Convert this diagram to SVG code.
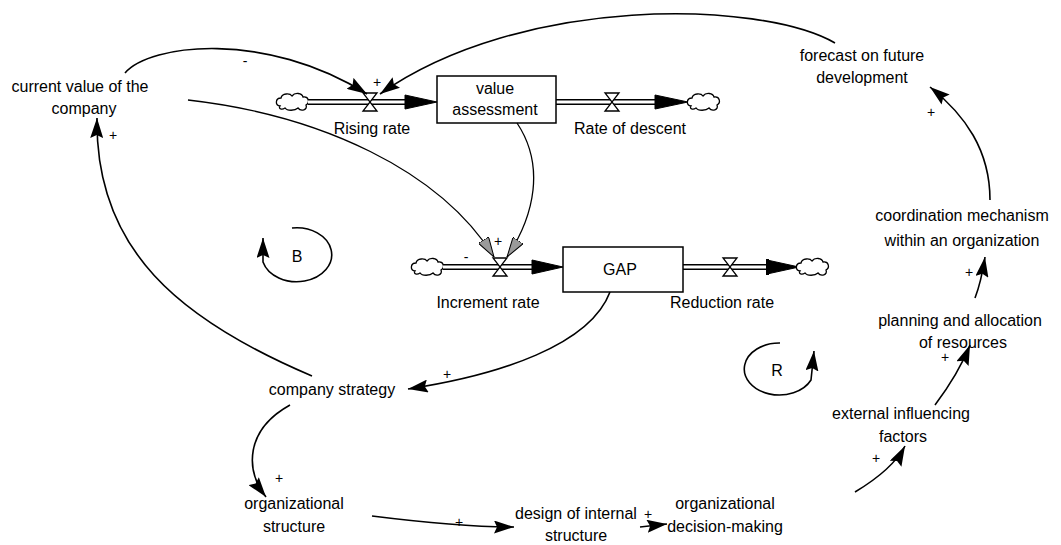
<svg xmlns="http://www.w3.org/2000/svg" width="1061" height="545" viewBox="0 0 1061 545">
  <style>
    text { font-family: "Liberation Sans", Arial, sans-serif; font-size: 16px; fill: #000; text-anchor: middle; }
    .sign { font-size: 14px; }
    .link { fill: none; stroke: #000; stroke-width: 1.6; marker-end: url(#ah); }
    .link-shaded { fill: none; stroke: #000; stroke-width: 1.3; marker-end: url(#ahs); }
    .pipe-outer { fill: none; stroke: #000; stroke-width: 6; }
    .pipe-inner { fill: none; stroke: #fff; stroke-width: 3; }
    .head { fill: #000; stroke: #000; stroke-width: 1; }
    .valve { fill: #fff; stroke: #000; stroke-width: 1.3; }
    .stock { fill: #fff; stroke: #000; stroke-width: 1.5; }
    .cloud { fill: #fff; stroke: #000; stroke-width: 1.3; }
  </style>
  <defs>
    <marker id="ah" markerWidth="20" markerHeight="13" refX="20" refY="6.5" orient="auto" markerUnits="userSpaceOnUse">
      <path d="M0,0 L20,6.5 L0,13 L3,6.5 z" fill="#000"/>
    </marker>
    <marker id="ahs" markerWidth="20" markerHeight="12" refX="20" refY="6" orient="auto" markerUnits="userSpaceOnUse">
      <path d="M0,0 L20,6 L0,12 z" fill="#9a9a9a" stroke="#000" stroke-width="1"/>
    </marker>
    <path id="cloudShape" class="cloud" d="M-13,4 C-18,4 -18,-4 -12,-4 C-11,-9 -3,-9 -1,-6 C2,-10 9,-9 10,-5 C16,-6 17,1 13,3 C15,8 8,10 5,6 C2,9 -6,9 -8,6 C-11,8 -15,7 -13,4 Z"/>
    <polygon id="valveShape" class="valve" points="-7,-9 7,-9 -7,9 7,9"/>
  </defs>

  <!-- stock and flow chain: value assessment -->
  <g id="value-assessment-flow">
    <use href="#cloudShape" x="293" y="102"/>
    <path class="pipe-outer" d="M308,102 H406"/>
    <path class="pipe-inner" d="M308,102 H406"/>
    <polygon class="head" points="405,95 437,102 405,109"/>
    <use href="#valveShape" x="370" y="102"/>
    <path class="pipe-outer" d="M556,102 H656"/>
    <path class="pipe-inner" d="M556,102 H656"/>
    <polygon class="head" points="655,95 688,102 655,109"/>
    <use href="#valveShape" x="612" y="102"/>
    <use href="#cloudShape" x="704" y="102"/>
  </g>
  <g id="value-assessment">
    <rect class="stock" x="437" y="76" width="119" height="47"/>
    <text x="495" y="94">value</text>
    <text x="495" y="115">assessment</text>
  </g>
  <g id="rising-rate"><text x="372" y="134">Rising rate</text></g>
  <g id="rate-of-descent"><text x="630" y="134">Rate of descent</text></g>

  <!-- stock and flow chain: GAP -->
  <g id="gap-flow">
    <use href="#cloudShape" x="428" y="267"/>
    <path class="pipe-outer" d="M443,267 H533"/>
    <path class="pipe-inner" d="M443,267 H533"/>
    <polygon class="head" points="532,260 563,267 532,274"/>
    <use href="#valveShape" x="500" y="267"/>
    <path class="pipe-outer" d="M683,267 H768"/>
    <path class="pipe-inner" d="M683,267 H768"/>
    <polygon class="head" points="767,260 799,267 767,274"/>
    <rect x="766" y="259" width="3" height="16" fill="#000"/>
    <use href="#valveShape" x="730" y="267"/>
    <use href="#cloudShape" x="813" y="267"/>
  </g>
  <g id="gap">
    <rect class="stock" x="563" y="247" width="120" height="45"/>
    <text x="620" y="275">GAP</text>
  </g>
  <g id="increment-rate"><text x="488" y="308">Increment rate</text></g>
  <g id="reduction-rate"><text x="722" y="308">Reduction rate</text></g>

  <!-- auxiliary variables -->
  <g id="current-value"><text x="80" y="92">current value of the</text><text x="84" y="114">company</text></g>
  <g id="forecast"><text x="862" y="61">forecast on future</text><text x="862" y="83">development</text></g>
  <g id="coordination"><text x="962" y="221">coordination mechanism</text><text x="962" y="246">within an organization</text></g>
  <g id="planning"><text x="960" y="326">planning and allocation</text><text x="963" y="348">of resources</text></g>
  <g id="external"><text x="901" y="419">external influencing</text><text x="903" y="442">factors</text></g>
  <g id="company-strategy"><text x="332" y="395">company strategy</text></g>
  <g id="org-structure"><text x="294" y="509">organizational</text><text x="294" y="532">structure</text></g>
  <g id="internal-design"><text x="576" y="519">design of internal</text><text x="576" y="541">structure</text></g>
  <g id="decision-making"><text x="725" y="509">organizational</text><text x="725" y="532">decision-making</text></g>

  <!-- loop markers -->
  <g id="loop-b">
    <path class="link" d="M292,228 A35,27 0 1 1 263,262 L263,238"/>
    <text x="297" y="262">B</text>
  </g>
  <g id="loop-r">
    <path class="link" d="M780,343 A35,26 0 1 0 811,380 L814,351"/>
    <text x="777" y="376">R</text>
  </g>

  <!-- causal links -->
  <g id="connectors">
    <path class="link" d="M125,73 C150,44 265,30 367,94"/>
    <path class="link" d="M835,43 C760,0 520,-5 380,94"/>
    <path class="link-shaded" d="M188,100 C320,115 440,170 494,257"/>
    <path class="link-shaded" d="M517,123 C545,165 535,215 507,257"/>
    <path class="link" d="M610,292 C590,345 500,375 408,389"/>
    <path class="link" d="M312,376 C180,320 95,250 97,118"/>
    <path class="link" d="M290,405 C245,430 245,470 266,497"/>
    <path class="link" d="M372,516 C420,522 470,527 514,527"/>
    <path class="link" d="M640,527 L667,524"/>
    <path class="link" d="M855,492 C875,480 895,465 905,446"/>
    <path class="link" d="M935,405 C950,385 962,365 970,345"/>
    <path class="link" d="M975,298 C980,285 983,270 985,257"/>
    <path class="link" d="M990,200 C990,150 965,115 930,87"/>

    <text class="sign" x="245" y="66">-</text>
    <text class="sign" x="377" y="87">+</text>
    <text class="sign" x="113" y="140">+</text>
    <text class="sign" x="466" y="262">-</text>
    <text class="sign" x="498" y="246">+</text>
    <text class="sign" x="447" y="379">+</text>
    <text class="sign" x="279" y="483">+</text>
    <text class="sign" x="459" y="527">+</text>
    <text class="sign" x="648" y="519">+</text>
    <text class="sign" x="876" y="463">+</text>
    <text class="sign" x="945" y="362">+</text>
    <text class="sign" x="969" y="277">+</text>
    <text class="sign" x="931" y="117">+</text>
  </g>
</svg>
